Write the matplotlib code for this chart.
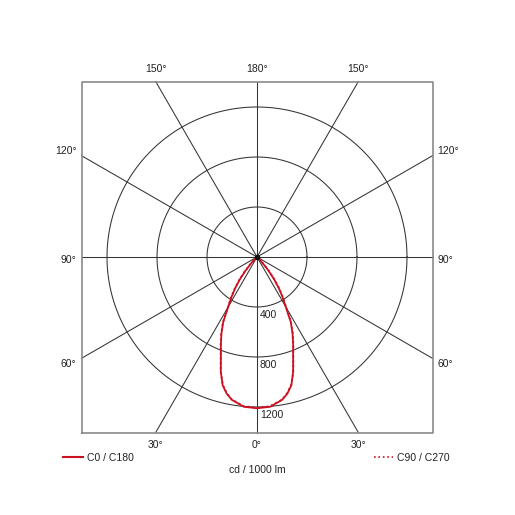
import numpy as np
import matplotlib
matplotlib.use("Agg")
import matplotlib.pyplot as plt
from matplotlib.lines import Line2D

plt.rcParams['font.family'] = ['Liberation Sans', 'DejaVu Sans']

# luminous intensity distribution, cd / 1000 lm, gamma measured from nadir
gamma = [0, 5, 10, 12.5, 15, 17.5, 20, 22.5, 25, 27.5, 30, 32.5, 35, 37.5, 40, 42.5, 45, 50, 60, 90]
c0_c180 = [1210, 1203, 1160, 1120, 1062, 962, 845, 755, 672, 585, 460, 380, 305, 225, 145, 75, 25, 5, 0, 0]
c90_c270 = [1205, 1198, 1158, 1115, 1058, 965, 850, 760, 680, 590, 470, 392, 318, 240, 160, 90, 35, 8, 0, 0]

rings = [400, 800, 1200]
spoke_angles = [0, 30, 60, 90, 120, 150, 180, 210, 240, 270, 300, 330]
edge_labels = {  # angle -> label text
    0: "0°", 30: "30°", 330: "30°",
    180: "180°", 150: "150°", 210: "150°",
    60: "60°", 90: "90°", 120: "120°",
    300: "60°", 270: "90°", 240: "120°",
}
series_names = ["C0 / C180", "C90 / C270"]

RED = "#cc1020"
GRID = "#333333"
TXT = "#222222"

px = 8.0  # cd per pixel
cx, cy = 257, 257
half = 175.5 * px  # half size of the frame in cd

fig = plt.figure(figsize=(5.15, 5.15), dpi=100)
ax = fig.add_axes([0, 0, 1, 1])
ax.set_xlim(-cx * px, (515 - cx) * px)
ax.set_ylim(-(515 - cy) * px, cy * px)
ax.set_aspect("equal")
ax.axis("off")

# rings
t = np.linspace(0, 2 * np.pi, 400)
for r in rings:
    ax.plot(r * np.cos(t), r * np.sin(t), color=GRID, lw=0.75, zorder=2)
    ax.text(3 * px, -r - 3 * px, str(r), ha="left", va="top", fontsize=7.5, color=TXT, zorder=5)

# spokes, clipped at the frame
for a in spoke_angles:
    ar = np.deg2rad(a)
    dx, dy = np.sin(ar), -np.cos(ar)
    L = half / max(abs(dx), abs(dy))
    ax.plot([0, L * dx], [0, L * dy], color=GRID, lw=0.75, zorder=2)

# frame
ax.plot([-half, half, half, -half, -half], [-half, -half, half, half, -half],
        color="#8a8a8a", lw=1.2, zorder=3)

# edge labels
for a, s in edge_labels.items():
    ar = np.deg2rad(a)
    dx, dy = np.sin(ar), -np.cos(ar)
    L = half / max(abs(dx), abs(dy))
    x, y = L * dx, L * dy
    if abs(dy) >= abs(dx) - 1e-9 and a not in (60, 120, 240, 300):
        off = 12.5 * px
        ax.text(x, y + (off if dy > 0 else -off), s, ha="center", va="center",
                fontsize=7.5, color=TXT)
    else:
        yoff = {90: -3, 270: -3, 120: 5, 240: 5, 60: -6, 300: -6}[a] * px
        if dx > 0:
            ax.text(x + 5 * px, y + yoff, s, ha="left", va="center", fontsize=7.5, color=TXT)
        else:
            ax.text(x - 5 * px, y + yoff, s, ha="right", va="center", fontsize=7.5, color=TXT)

# curves (mirror both halves of each plane)
g = np.deg2rad(np.array(gamma))
full_g = np.concatenate([-g[::-1], g[1:]])
for vals, ls in [(c0_c180, "-"), (c90_c270, ":")]:
    v = np.array(vals, dtype=float)
    full_v = np.concatenate([v[::-1], v[1:]])
    ax.plot(full_v * np.sin(full_g), -full_v * np.cos(full_g), color=RED, lw=1.3,
            linestyle=ls, zorder=4)

ax.plot([0], [0], "o", color="#111111", ms=3, zorder=6)

# legends
h1 = [Line2D([], [], color=RED, lw=1.5, linestyle="-")]
h2 = [Line2D([], [], color=RED, lw=1.2, linestyle=":")]
leg1 = fig.legend(h1, [series_names[0]], loc="center left",
                  bbox_to_anchor=(63 / 515, 1 - 457.7 / 515), frameon=False,
                  fontsize=7.5, handlelength=1.9, handletextpad=0.4,
                  borderpad=0, borderaxespad=0)
for tx in leg1.get_texts():
    tx.set_color(TXT)
leg2 = fig.legend(h2, [series_names[1]], loc="center left",
                  bbox_to_anchor=(374 / 515, 1 - 457.7 / 515), frameon=False,
                  fontsize=7.5, handlelength=1.8, handletextpad=0.4,
                  borderpad=0, borderaxespad=0)
for tx in leg2.get_texts():
    tx.set_color(TXT)

fig.text(257 / 515, 1 - 470 / 515, "cd / 1000 lm", ha="center", va="center",
         fontsize=7.5, color=TXT)

fig.savefig("out.png", dpi=100, facecolor="white")
